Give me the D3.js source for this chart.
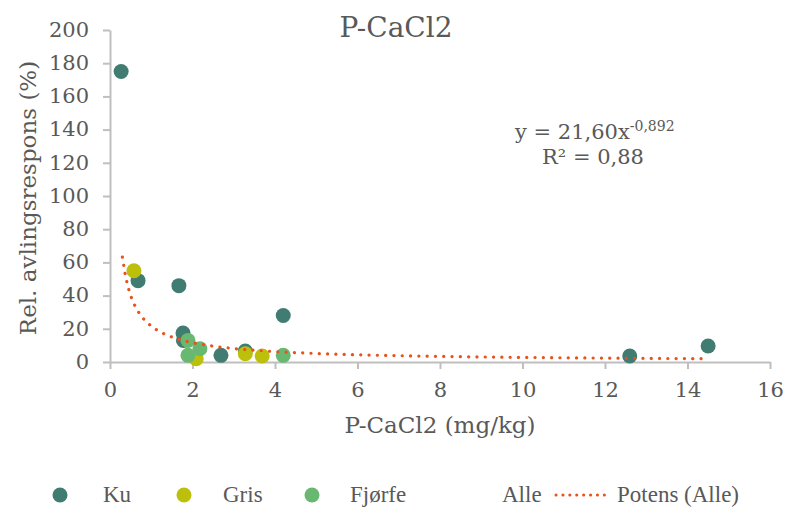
<!DOCTYPE html>
<html>
<head>
<meta charset="utf-8">
<script src="https://cdn.jsdelivr.net/npm/d3@7"></script>
<style>
  body { margin: 0; background: #fff; }
  text { font-family: "DejaVu Serif", "Liberation Serif", serif; fill: #595959; }
</style>
</head>
<body>
<script>
// data
const kuX = [0.27, 0.68, 1.67, 1.77, 1.78, 2.69, 3.28, 4.2, 12.6, 14.5]
const kuY = [175, 49, 46, 17.5, 13, 4, 6.6, 28, 3.6, 9.6]
const grisX = [0.58, 2.09, 3.28, 3.69]
const grisY = [55, 2, 5, 3.6]
const fjorfeX = [1.89, 2.18, 1.89, 4.2]
const fjorfeY = [13, 8, 4, 4]
const xTicks = [0, 2, 4, 6, 8, 10, 12, 14, 16]
const yTicks = [0, 20, 40, 60, 80, 100, 120, 140, 160, 180, 200]
// power trendline y = a * x^b
const fitA = 21.60
const fitB = -0.892

const series = [
  { name: "Ku", color: "#417c72", x: kuX, y: kuY },
  { name: "Gris", color: "#bcc00b", x: grisX, y: grisY },
  { name: "Fjørfe", color: "#68b872", x: fjorfeX, y: fjorfeY }
]

const width = 785, height = 508
const svg = d3.select("body").append("svg")
  .attr("width", width)
  .attr("height", height)

const x = d3.scaleLinear().domain([0, 16]).range([110, 770])
const y = d3.scaleLinear().domain([0, 200]).range([362, 30])

//------------------------------- axes ----------------------------------------------------
const xAxis = svg.append("g")
  .attr("transform", `translate(0,${y(0)})`)
  .call(d3.axisBottom(x).tickValues(xTicks).tickSize(7).tickSizeOuter(0))
const yAxis = svg.append("g")
  .attr("transform", `translate(${x(0)},0)`)
  .call(d3.axisLeft(y).tickValues(yTicks).tickSize(7).tickSizeOuter(0))

for (const ax of [xAxis, yAxis]) {
  ax.select(".domain").attr("stroke", "#bfbfbf").attr("stroke-width", 2)
  ax.selectAll(".tick line").attr("stroke", "#bfbfbf").attr("stroke-width", 2)
  ax.selectAll(".tick text")
    .attr("fill", "#595959")
    .style("font-size", "21px")
    .style("font-family", "DejaVu Serif, serif")
}
xAxis.selectAll(".tick text").attr("y", 16).attr("dy", "0.9em")
yAxis.selectAll(".tick text").attr("x", -21).attr("dy", "0.3em")

//------------------------------- trendline ----------------------------------------------------
const allX = kuX.concat(grisX, fjorfeX)
const xMin = 0.3, xMax = d3.max(allX)
const curve = d3.range(0, 201).map(i => {
  const xv = xMin + (xMax - xMin) * i / 200
  return [xv, fitA * Math.pow(xv, fitB)]
})

//------------------------------- points ----------------------------------------------------
series.forEach(s => {
  svg.append("g")
    .selectAll("circle")
    .data(s.x.map((v, i) => [v, s.y[i]]))
    .join("circle")
    .attr("cx", d => x(d[0]))
    .attr("cy", d => y(d[1]))
    .attr("r", 7.5)
    .attr("fill", s.color)
})

svg.append("path")
  .datum(curve)
  .attr("d", d3.line().x(d => x(d[0])).y(d => y(d[1])))
  .attr("fill", "none")
  .attr("stroke", "#e8521c")
  .attr("stroke-width", 3.2)
  .attr("stroke-linecap", "round")
  .attr("stroke-dasharray", "0.1 8.2")

//------------------------------- titles ----------------------------------------------------
svg.append("text")
  .attr("x", 396).attr("y", 37)
  .attr("text-anchor", "middle")
  .style("font-size", "28px")
  .text("P-CaCl2")

svg.append("text")
  .attr("x", 440).attr("y", 433)
  .attr("text-anchor", "middle")
  .style("font-size", "23px")
  .text("P-CaCl2 (mg/kg)")

svg.append("text")
  .attr("transform", "translate(36,198) rotate(-90)")
  .attr("text-anchor", "middle")
  .style("font-size", "23px")
  .text("Rel. avlingsrespons (%)")

const eq = svg.append("text")
  .attr("x", 515).attr("y", 139)
  .style("font-size", "21px")
eq.append("tspan").text("y = 21,60x")
eq.append("tspan").attr("dy", -8).style("font-size", "14px").text("-0,892")

svg.append("text")
  .attr("x", 593).attr("y", 164)
  .attr("text-anchor", "middle")
  .style("font-size", "21px")
  .text("R² = 0,88")

//------------------------------- legend ----------------------------------------------------
const legY = 495
const legend = svg.append("g")
const legPos = [60, 184, 312]
const legText = [103, 223, 350]
series.forEach((s, i) => {
  legend.append("circle")
    .attr("cx", legPos[i]).attr("cy", legY)
    .attr("r", 7.5)
    .attr("fill", s.color)
  legend.append("text")
    .attr("x", legText[i]).attr("y", legY + 7)
    .style("font-family", "Liberation Serif, serif")
    .style("font-size", "23px")
    .text(s.name)
})
legend.append("text")
  .attr("x", 502).attr("y", legY + 7)
  .style("font-family", "Liberation Serif, serif")
  .style("font-size", "23px")
  .text("Alle")
legend.append("line")
  .attr("x1", 556).attr("x2", 611)
  .attr("y1", legY).attr("y2", legY)
  .attr("stroke", "#e8521c")
  .attr("stroke-width", 3)
  .attr("stroke-linecap", "round")
  .attr("stroke-dasharray", "0.1 6.8")
legend.append("text")
  .attr("x", 617).attr("y", legY + 7)
  .style("font-family", "Liberation Serif, serif")
  .style("font-size", "23px")
  .text("Potens (Alle)")
</script>
</body>
</html>
